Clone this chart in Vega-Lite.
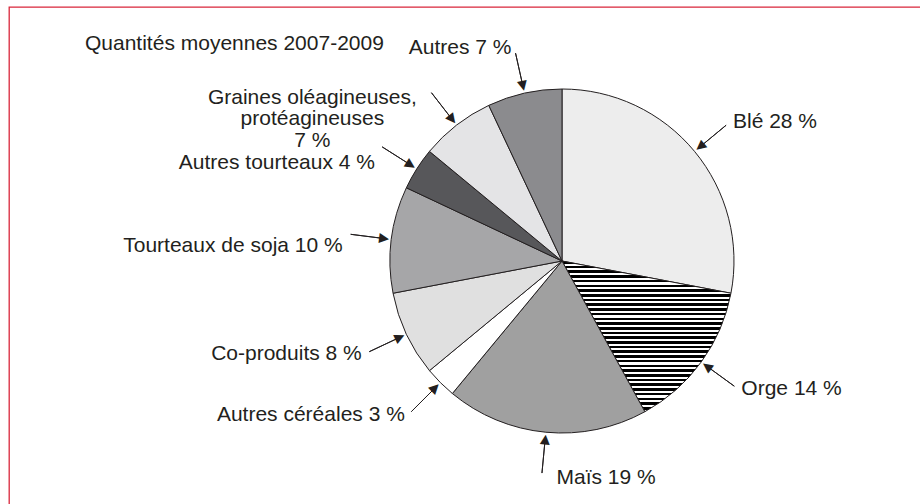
{
  "$schema": "https://vega.github.io/schema/vega-lite/v6.json",
  "autosize": {"type": "none"},
  "padding": {"left": 9, "top": 7, "right": 0, "bottom": 0},
  "width": 1106,
  "height": 508,
  "background": "white",
  "view": {"stroke": "#d9263b", "strokeWidth": 1.3, "fill": "white"},
  "config": {
    "view": {"stroke": "#d9263b", "strokeWidth": 1.3},
    "font": "Liberation Sans"
  },
  "title": {
    "text": "Quantités moyennes 2007-2009",
    "anchor": "start",
    "frame": "group",
    "orient": "top",
    "offset": 0,
    "dx": 76,
    "dy": 64,
    "baseline": "alphabetic",
    "font": "Liberation Sans",
    "fontSize": 21,
    "fontWeight": "normal",
    "color": "#231f20"
  },
  "data": {
    "values": [
      {"cat": "Blé", "label": "Blé 28 %", "share": 28, "ordre": 1},
      {"cat": "Orge", "label": "Orge 14 %", "share": 14, "ordre": 2},
      {"cat": "Maïs", "label": "Maïs 19 %", "share": 19, "ordre": 3},
      {"cat": "Autres céréales", "label": "Autres céréales 3 %", "share": 3, "ordre": 4},
      {"cat": "Co-produits", "label": "Co-produits 8 %", "share": 8, "ordre": 5},
      {"cat": "Tourteaux de soja", "label": "Tourteaux de soja 10 %", "share": 10, "ordre": 6},
      {"cat": "Autres tourteaux", "label": "Autres tourteaux 4 %", "share": 4, "ordre": 7},
      {"cat": "Graines oléagineuses, protéagineuses", "label": "Graines oléagineuses,\nprotéagineuses\n7 %", "share": 7, "ordre": 8},
      {"cat": "Autres", "label": "Autres 7 %", "share": 7, "ordre": 9}
    ]
  },
  "layer": [
    {
      "mark": {"type": "arc", "outerRadius": 172, "stroke": "#231f20", "strokeWidth": 1},
      "encoding": {
        "theta": {"field": "share", "type": "quantitative", "stack": true, "scale": {"domain": [0, 100]}},
        "order": {"field": "ordre", "type": "quantitative", "sort": "ascending"},
        "fill": {
          "field": "cat",
          "type": "nominal",
          "legend": null,
          "scale": {
            "domain": ["Blé", "Orge", "Maïs", "Autres céréales", "Co-produits", "Tourteaux de soja", "Autres tourteaux", "Graines oléagineuses, protéagineuses", "Autres"],
            "range": ["#ededed", "#7a7a7a", "#a0a0a0", "#ffffff", "#e0e0e0", "#a6a6a8", "#57575a", "#e4e4e6", "#8b8b8e"]
          },
          "condition": {
            "test": "datum.cat === 'Orge'",
            "value": {
              "gradient": "linear", "x1": 0, "y1": 0, "x2": 0, "y2": 1,
              "stops": [
                {"offset": 0, "color": "#000"}, {"offset": 0.017, "color": "#000"}, {"offset": 0.017, "color": "#fff"}, {"offset": 0.03125, "color": "#fff"},
                {"offset": 0.03125, "color": "#000"}, {"offset": 0.04825, "color": "#000"}, {"offset": 0.04825, "color": "#fff"}, {"offset": 0.0625, "color": "#fff"},
                {"offset": 0.0625, "color": "#000"}, {"offset": 0.0795, "color": "#000"}, {"offset": 0.0795, "color": "#fff"}, {"offset": 0.09375, "color": "#fff"},
                {"offset": 0.09375, "color": "#000"}, {"offset": 0.11075, "color": "#000"}, {"offset": 0.11075, "color": "#fff"}, {"offset": 0.125, "color": "#fff"},
                {"offset": 0.125, "color": "#000"}, {"offset": 0.142, "color": "#000"}, {"offset": 0.142, "color": "#fff"}, {"offset": 0.15625, "color": "#fff"},
                {"offset": 0.15625, "color": "#000"}, {"offset": 0.17325, "color": "#000"}, {"offset": 0.17325, "color": "#fff"}, {"offset": 0.1875, "color": "#fff"},
                {"offset": 0.1875, "color": "#000"}, {"offset": 0.2045, "color": "#000"}, {"offset": 0.2045, "color": "#fff"}, {"offset": 0.21875, "color": "#fff"},
                {"offset": 0.21875, "color": "#000"}, {"offset": 0.23575, "color": "#000"}, {"offset": 0.23575, "color": "#fff"}, {"offset": 0.25, "color": "#fff"},
                {"offset": 0.25, "color": "#000"}, {"offset": 0.267, "color": "#000"}, {"offset": 0.267, "color": "#fff"}, {"offset": 0.28125, "color": "#fff"},
                {"offset": 0.28125, "color": "#000"}, {"offset": 0.29825, "color": "#000"}, {"offset": 0.29825, "color": "#fff"}, {"offset": 0.3125, "color": "#fff"},
                {"offset": 0.3125, "color": "#000"}, {"offset": 0.3295, "color": "#000"}, {"offset": 0.3295, "color": "#fff"}, {"offset": 0.34375, "color": "#fff"},
                {"offset": 0.34375, "color": "#000"}, {"offset": 0.36075, "color": "#000"}, {"offset": 0.36075, "color": "#fff"}, {"offset": 0.375, "color": "#fff"},
                {"offset": 0.375, "color": "#000"}, {"offset": 0.392, "color": "#000"}, {"offset": 0.392, "color": "#fff"}, {"offset": 0.40625, "color": "#fff"},
                {"offset": 0.40625, "color": "#000"}, {"offset": 0.42325, "color": "#000"}, {"offset": 0.42325, "color": "#fff"}, {"offset": 0.4375, "color": "#fff"},
                {"offset": 0.4375, "color": "#000"}, {"offset": 0.4545, "color": "#000"}, {"offset": 0.4545, "color": "#fff"}, {"offset": 0.46875, "color": "#fff"},
                {"offset": 0.46875, "color": "#000"}, {"offset": 0.48575, "color": "#000"}, {"offset": 0.48575, "color": "#fff"}, {"offset": 0.5, "color": "#fff"},
                {"offset": 0.5, "color": "#000"}, {"offset": 0.517, "color": "#000"}, {"offset": 0.517, "color": "#fff"}, {"offset": 0.53125, "color": "#fff"},
                {"offset": 0.53125, "color": "#000"}, {"offset": 0.54825, "color": "#000"}, {"offset": 0.54825, "color": "#fff"}, {"offset": 0.5625, "color": "#fff"},
                {"offset": 0.5625, "color": "#000"}, {"offset": 0.5795, "color": "#000"}, {"offset": 0.5795, "color": "#fff"}, {"offset": 0.59375, "color": "#fff"},
                {"offset": 0.59375, "color": "#000"}, {"offset": 0.61075, "color": "#000"}, {"offset": 0.61075, "color": "#fff"}, {"offset": 0.625, "color": "#fff"},
                {"offset": 0.625, "color": "#000"}, {"offset": 0.642, "color": "#000"}, {"offset": 0.642, "color": "#fff"}, {"offset": 0.65625, "color": "#fff"},
                {"offset": 0.65625, "color": "#000"}, {"offset": 0.67325, "color": "#000"}, {"offset": 0.67325, "color": "#fff"}, {"offset": 0.6875, "color": "#fff"},
                {"offset": 0.6875, "color": "#000"}, {"offset": 0.7045, "color": "#000"}, {"offset": 0.7045, "color": "#fff"}, {"offset": 0.71875, "color": "#fff"},
                {"offset": 0.71875, "color": "#000"}, {"offset": 0.73575, "color": "#000"}, {"offset": 0.73575, "color": "#fff"}, {"offset": 0.75, "color": "#fff"},
                {"offset": 0.75, "color": "#000"}, {"offset": 0.767, "color": "#000"}, {"offset": 0.767, "color": "#fff"}, {"offset": 0.78125, "color": "#fff"},
                {"offset": 0.78125, "color": "#000"}, {"offset": 0.79825, "color": "#000"}, {"offset": 0.79825, "color": "#fff"}, {"offset": 0.8125, "color": "#fff"},
                {"offset": 0.8125, "color": "#000"}, {"offset": 0.8295, "color": "#000"}, {"offset": 0.8295, "color": "#fff"}, {"offset": 0.84375, "color": "#fff"},
                {"offset": 0.84375, "color": "#000"}, {"offset": 0.86075, "color": "#000"}, {"offset": 0.86075, "color": "#fff"}, {"offset": 0.875, "color": "#fff"},
                {"offset": 0.875, "color": "#000"}, {"offset": 0.892, "color": "#000"}, {"offset": 0.892, "color": "#fff"}, {"offset": 0.90625, "color": "#fff"},
                {"offset": 0.90625, "color": "#000"}, {"offset": 0.92325, "color": "#000"}, {"offset": 0.92325, "color": "#fff"}, {"offset": 0.9375, "color": "#fff"},
                {"offset": 0.9375, "color": "#000"}, {"offset": 0.9545, "color": "#000"}, {"offset": 0.9545, "color": "#fff"}, {"offset": 0.96875, "color": "#fff"},
                {"offset": 0.96875, "color": "#000"}, {"offset": 0.98575, "color": "#000"}, {"offset": 0.98575, "color": "#fff"}, {"offset": 1, "color": "#fff"}
              ]
            }
          }
        }
      }
    },
    {
      "transform": [
        {"stack": "share", "groupby": [], "sort": [{"field": "ordre", "order": "ascending"}], "as": ["s0", "s1"]},
        {"fold": ["s0", "s1"], "as": ["edge", "ang"]},
        {"aggregate": [{"op": "mean", "field": "ang", "as": "mid"}], "groupby": ["cat", "label"]}
      ],
      "layer": [
        {
          "mark": {"type": "arc", "innerRadius": 177, "outerRadius": 213, "stroke": "#231f20", "strokeWidth": 1, "fillOpacity": 0},
          "encoding": {
            "theta": {"field": "mid", "type": "quantitative", "stack": null},
            "theta2": {"field": "mid"}
          }
        },
        {
          "mark": {"type": "text", "text": "▼", "font": "DejaVu Sans", "fontSize": 13, "radius": 180, "align": "center", "baseline": "middle", "color": "#231f20"},
          "encoding": {
            "theta": {"field": "mid", "type": "quantitative", "stack": null},
            "angle": {"field": "mid", "type": "quantitative", "scale": {"domain": [0, 100], "range": [0, 360]}}
          }
        },
        {
          "transform": [{"filter": {"field": "cat", "oneOf": ["Blé", "Orge"]}}],
          "mark": {"type": "text", "radius": 218, "align": "left", "baseline": "middle", "dx": 3, "font": "Liberation Sans", "fontSize": 21, "color": "#231f20"},
          "encoding": {
            "theta": {"field": "mid", "type": "quantitative", "stack": null},
            "text": {"field": "label"}
          }
        },
        {
          "transform": [{"filter": {"field": "cat", "oneOf": ["Maïs"]}}],
          "mark": {"type": "text", "radius": 218, "align": "left", "baseline": "middle", "dx": 15, "font": "Liberation Sans", "fontSize": 21, "color": "#231f20"},
          "encoding": {
            "theta": {"field": "mid", "type": "quantitative", "stack": null},
            "text": {"field": "label"}
          }
        },
        {
          "transform": [{"filter": {"field": "cat", "oneOf": ["Autres céréales", "Co-produits", "Autres"]}}],
          "mark": {"type": "text", "radius": 218, "align": "right", "baseline": "middle", "dx": -3, "font": "Liberation Sans", "fontSize": 21, "color": "#231f20"},
          "encoding": {
            "theta": {"field": "mid", "type": "quantitative", "stack": null},
            "text": {"field": "label"}
          }
        },
        {
          "transform": [{"filter": {"field": "cat", "oneOf": ["Tourteaux de soja"]}}],
          "mark": {"type": "text", "radius": 218, "align": "right", "baseline": "middle", "dx": -3, "dy": 12, "font": "Liberation Sans", "fontSize": 21, "color": "#231f20"},
          "encoding": {
            "theta": {"field": "mid", "type": "quantitative", "stack": null},
            "text": {"field": "label"}
          }
        },
        {
          "transform": [{"filter": {"field": "cat", "oneOf": ["Autres tourteaux"]}}],
          "mark": {"type": "text", "radius": 218, "align": "right", "baseline": "middle", "dx": -3, "dy": 19, "font": "Liberation Sans", "fontSize": 21, "color": "#231f20"},
          "encoding": {
            "theta": {"field": "mid", "type": "quantitative", "stack": null},
            "text": {"field": "label"}
          }
        },
        {
          "transform": [{"filter": {"field": "cat", "oneOf": ["Graines oléagineuses, protéagineuses"]}}],
          "mark": {"type": "text", "radius": 218, "align": "center", "baseline": "middle", "dx": -116, "dy": 9, "lineBreak": "\n", "lineHeight": 21.5, "font": "Liberation Sans", "fontSize": 21, "color": "#231f20"},
          "encoding": {
            "theta": {"field": "mid", "type": "quantitative", "stack": null},
            "text": {"field": "label"}
          }
        }
      ]
    }
  ]
}
